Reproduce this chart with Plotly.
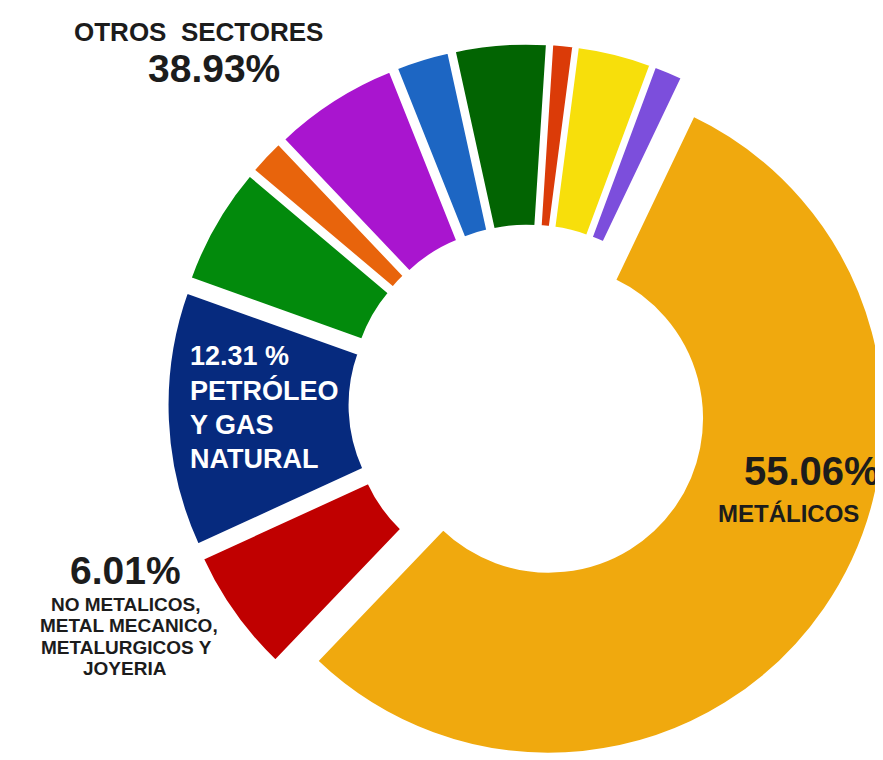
import plotly.graph_objects as go

# ---- data ----
sectors = [
    "Metálicos",
    "No metálicos, metal mecánico, metalúrgicos y joyería",
    "Petróleo y gas natural",
    "Otros sectores A",
    "Otros sectores B",
    "Otros sectores C",
    "Otros sectores D",
    "Otros sectores E",
    "Otros sectores F",
    "Otros sectores G",
    "Otros sectores H",
]
shares = [55.06, 6.01, 12.31, 5.70, 1.75, 6.05, 2.60, 4.45, 1.05, 3.60, 1.42]
colors = ["#F0A90E", "#C00000", "#062A7E", "#028A0C", "#E8640C", "#A915CF",
          "#1D66C3", "#026402", "#DB3B08", "#F7DF0B", "#7C4EDC"]

W, H = 883, 760

fig = go.Figure(go.Pie(
    labels=sectors,
    values=shares,
    sort=False,
    direction="clockwise",
    rotation=25.5,
    hole=0.455,
    pull=[0.075] * len(shares),
    marker=dict(colors=colors, line=dict(color="white", width=3)),
    textinfo="none",
    showlegend=False,
    domain=dict(x=[0.1801, 0.9977], y=[0.0039, 0.9539]),
))

def px(x):
    return x / W

def py(y):
    return 1 - y / H

FONT = "Liberation Sans, Arial, sans-serif"
DARK = "#1c1c1c"

ann = []
def add(text, x, y, size, color=DARK, xanchor="center"):
    ann.append(dict(text="<b>" + text + "</b>", x=px(x), y=py(y), xref="paper", yref="paper",
                    xanchor=xanchor, yanchor="middle", showarrow=False,
                    font=dict(family=FONT, size=size, color=color)))

add("OTROS\u00a0 SECTORES", 190, 24, 26)
add("38.93%", 206, 60, 39)

add("12.31 %", 180, 348, 27, "white", "left")
add("PETRÓLEO", 180, 383, 27, "white", "left")
add("Y GAS", 180, 417, 27, "white", "left")
add("NATURAL", 180, 451, 27, "white", "left")

add("55.06%", 804, 463, 40)
add("METÁLICOS", 780, 506, 24)

add("6.01%", 117, 562, 39)
add("NO METALICOS,", 118, 596, 19)
add("METAL MECANICO,", 121, 617.5, 19)
add("METALURGICOS Y", 118, 639, 19)
add("JOYERIA", 117, 660.5, 19)

fig.update_layout(
    width=W, height=H,
    margin=dict(l=0, r=0, t=0, b=0),
    paper_bgcolor="white",
    plot_bgcolor="white",
    annotations=ann,
)

fig.write_html("out.html")
